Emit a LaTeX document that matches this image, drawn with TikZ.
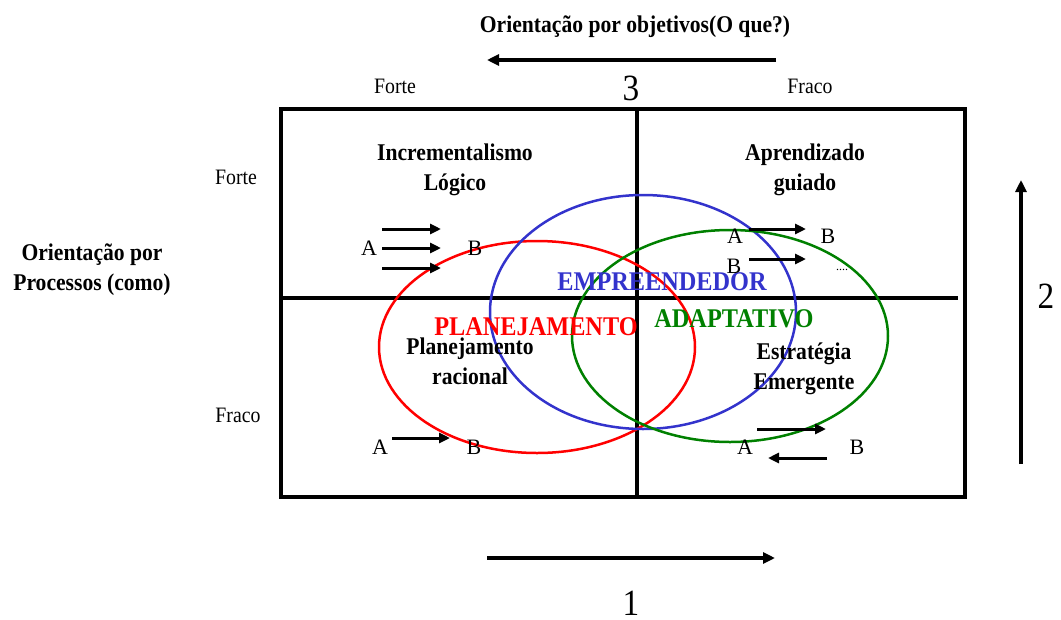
\documentclass[tikz,border=0pt]{standalone}
\usepackage{fontspec}
\setmainfont{Liberation Serif}
\newfontfamily\cond[FakeStretch=0.9]{Liberation Serif}
\usetikzlibrary{arrows.meta}
\definecolor{eblue}{RGB}{51,51,204}
\definecolor{agreen}{RGB}{0,128,0}
\tikzset{
  bl/.style={font=\cond\bfseries\fontsize{24}{30}\selectfont, align=center, inner sep=0pt},
  big/.style={font=\cond\bfseries\fontsize{27}{30}\selectfont, inner sep=0pt},
  rg/.style={font=\cond\fontsize{22}{24}\selectfont, inner sep=0pt},
  ab/.style={font=\fontsize{22}{24}\selectfont, inner sep=0pt},
  num/.style={font=\cond\fontsize{37}{40}\selectfont, inner sep=0pt},
  arr/.style={line width=3pt, -{Triangle[length=11pt,width=10pt]}},
  axarr/.style={line width=3.5pt, -{Triangle[length=12pt,width=11pt]}},
  frame/.style={line width=3.5pt},
  ell/.style={line width=2.5pt}
}
\begin{document}
\begin{tikzpicture}[x=1pt,y=-1pt]
\useasboundingbox (0,0) rectangle (1061,619);
% frame
\coordinate (tl) at (281,109);
\coordinate (br) at (965,497);
\draw[frame] (tl) rectangle (br);
\coordinate (vt) at (637,109);
\coordinate (vb) at (637,497);
\coordinate (hl) at (281,298);
\coordinate (hr) at (958,298);
\draw[frame] (vt) -- (vb);
\draw[frame] (hl) -- (hr);
% ellipses
\draw[ell, red] (537,347) ellipse [x radius=158pt, y radius=106pt];
\draw[ell, eblue] (643,312) ellipse [x radius=153pt, y radius=117pt];
\draw[ell, agreen] (730,336) ellipse [x radius=158pt, y radius=106pt];
% top axis
\node[bl] (title) at (635,27) {Orientação por objetivos(O que?)};
\coordinate (t1) at (776,60);
\coordinate (t2) at (487,60);
\draw[axarr] (t1) -- (t2);
\node[rg] (forteT) at (395,86) {Forte};
\node[num] (n3) at (631,88) {3};
\node[rg] (fracoT) at (810,86) {Fraco};
% left axis
\node[rg] (forteL) at (236,177) {Forte};
\node[rg] (fracoL) at (238,415) {Fraco};
\node[bl] (proc) at (92,270) {Orientação por\\Processos (como)};
% right axis
\coordinate (r1) at (1021,464);
\coordinate (r2) at (1021,180);
\draw[axarr] (r1) -- (r2);
\node[num] (n2) at (1046,296) {2};
% bottom axis
\coordinate (b1) at (487,558);
\coordinate (b2) at (775,558);
\draw[axarr] (b1) -- (b2);
\node[num] (n1) at (631,603) {1};
% quadrant labels
\node[bl] (incr) at (455,170) {Incrementalismo\\Lógico};
\node[bl] (apr) at (805,170) {Aprendizado\\guiado};
\node[bl] (plan) at (470,361) {Planejamento\\racional};
\node[bl] (estr) at (804,369) {Estratégia\\Emergente};
% school names
\node[big, eblue] (empr) at (662,282) {EMPREENDEDOR};
\node[big, red] (plj) at (536,327) {PLANEJAMENTO};
\node[big, agreen] (adap) at (734,319) {ADAPTATIVO};
% top-left arrows
\node[ab] (tlA) at (369,248) {A};
\node[ab] (tlB) at (475,248) {B};
\coordinate (a1s) at (382,229); \coordinate (a1e) at (441,229);
\coordinate (a2s) at (382,248); \coordinate (a2e) at (441,248);
\coordinate (a3s) at (382,268); \coordinate (a3e) at (441,268);
\draw[arr] (a1s) -- (a1e);
\draw[arr] (a2s) -- (a2e);
\draw[arr] (a3s) -- (a3e);
% top-right
\node[ab] (trA) at (735,236) {A};
\node[ab] (trB) at (828,236) {B};
\node[ab] (trB2) at (734,266) {B};
\node[font=\fontsize{12}{12}\selectfont, inner sep=0pt] (dots) at (842,270) {....};
\coordinate (c1s) at (749,229); \coordinate (c1e) at (806,229);
\draw[arr] (c1s) -- (c1e);
\coordinate (c2s) at (749,259); \coordinate (c2e) at (806,259);
\draw[arr] (c2s) -- (c2e);
% bottom-left
\node[ab] (blA) at (380,447) {A};
\node[ab] (blB) at (474,447) {B};
\coordinate (d1s) at (392,438); \coordinate (d1e) at (450,438);
\draw[arr] (d1s) -- (d1e);
% bottom-right
\node[ab] (brA) at (745,447) {A};
\node[ab] (brB) at (857,447) {B};
\coordinate (e1s) at (757,429); \coordinate (e1e) at (826,429);
\coordinate (e2s) at (827,458); \coordinate (e2e) at (768,458);
\draw[arr] (e1s) -- (e1e);
\draw[arr] (e2s) -- (e2e);
\end{tikzpicture}
\end{document}
